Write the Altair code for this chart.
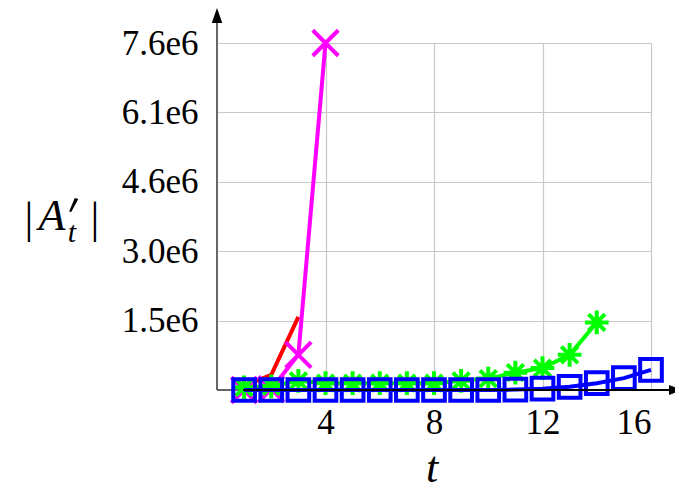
import altair as alt
import pandas as pd

# ---- data ----
t_red = [1, 2, 3]
v_red = [0.09e6, 0.33e6, 1.60e6]

t_mag = [1, 2, 3, 4]
v_mag = [0.0, 0.02e6, 0.77e6, 7.6e6]

t_green = list(range(1, 15))
v_green = [0.06e6, 0.08e6, 0.20e6, 0.15e6, 0.15e6, 0.15e6, 0.15e6, 0.15e6,
           0.20e6, 0.25e6, 0.38e6, 0.48e6, 0.77e6, 1.48e6]

t_blue = list(range(1, 17))
v_blue = [0.0, 0.0, 0.0, 0.0, 0.0, 0.0, 0.0, 0.0, 0.0, 0.0,
          0.01e6, 0.03e6, 0.07e6, 0.15e6, 0.26e6, 0.44e6]

x_ticks = [4, 8, 12, 16]
y_ticks = [1.52e6, 3.04e6, 4.56e6, 6.08e6, 7.6e6]
X_MAX = 16
Y_MAX = 7.6e6

W, H = 434, 347
FONT = "Liberation Serif"
TICK_FS = 35
TITLE_FS = 44
SW = 4

xs = alt.Scale(domain=[0, X_MAX], nice=False, zero=False)
ys = alt.Scale(domain=[0, Y_MAX], nice=False)

def df(t, v):
    return pd.DataFrame({"t": t, "v": v})

x_axis = alt.Axis(values=x_ticks, domain=False, ticks=False, grid=True,
                  gridColor="#c8c8c8", gridWidth=1.2, labelFont=FONT,
                  labelFontSize=TICK_FS, labelColor="black", labelPadding=15,
                  title=None)
y_axis = alt.Axis(values=y_ticks, domain=False, ticks=False, grid=True,
                  gridColor="#c8c8c8", gridWidth=1.2, labelFont=FONT,
                  labelFontSize=TICK_FS, labelColor="black", labelPadding=19,
                  labelExpr="format(datum.value/1e6, '.1f') + 'e6'",
                  title=None)

def series(t, v, color, shape=None, size=0):
    base = alt.Chart(df(t, v))
    enc = dict(x=alt.X("t:Q", scale=xs), y=alt.Y("v:Q", scale=ys))
    line = base.mark_line(color=color, strokeWidth=SW, clip=False).encode(**enc)
    if shape is None:
        return line
    pts = base.mark_point(shape=shape, size=size, color=color, filled=False,
                          strokeWidth=SW, opacity=1, clip=False).encode(**enc)
    return line + pts

ASTER = "M-1,0L1,0M0,-1L0,1M-0.7,-0.7L0.7,0.7M-0.7,0.7L0.7,-0.7"
CROSS = "M-1,-1L1,1M-1,1L1,-1"
PRIME = "M0.25,-1L0.75,-0.85L-0.25,1L-0.55,0.92Z"

grid_base = alt.Chart(df([0], [0])).mark_point(opacity=0).encode(
    x=alt.X("t:Q", scale=xs, axis=x_axis),
    y=alt.Y("v:Q", scale=ys, axis=y_axis),
)

one = pd.DataFrame({"a": [0]})
# axis lines with arrows (pixel positions relative to plot area)
y_line = alt.Chart(one).mark_rule(color="#666666", strokeWidth=2).encode(
    x=alt.value(0), y=alt.value(H), y2=alt.value(-20))
y_arrow = alt.Chart(one).mark_point(shape="M0,-1L0.7,1L-0.7,1Z", size=225,
                                     filled=True, color="black", opacity=1).encode(
    x=alt.value(0), y=alt.value(-27.5))
x_line_gray = alt.Chart(one).mark_rule(color="#666666", strokeWidth=2).encode(
    x=alt.value(0), x2=alt.value(27), y=alt.value(H))
x_line = alt.Chart(one).mark_rule(color="black", strokeWidth=2).encode(
    x=alt.value(26), x2=alt.value(455), y=alt.value(H))
x_arrow = alt.Chart(one).mark_point(shape="M1,0L-1,0.7L-1,-0.7Z", size=196,
                                     filled=True, color="black", opacity=1).encode(
    x=alt.value(459), y=alt.value(H))

# axis titles (relative to plot origin at page (217, 43))
def txt(s, x, y, size, style="normal", baseline="alphabetic", font=FONT):
    return alt.Chart(one).mark_text(text=s, font=font, fontSize=size,
                                    fontStyle=style, align="center",
                                    baseline=baseline, color="black").encode(
        x=alt.value(x), y=alt.value(y))

prime = alt.Chart(one).mark_point(shape=PRIME, size=200, filled=True,
                                  color="black", opacity=1, strokeWidth=0).encode(
    x=alt.value(73 - 217), y=alt.value(205 - 43))

titles = (
    txt("|", 29 - 217, 233 - 43, TITLE_FS)
    + txt("A", 52 - 217, 230 - 43, TITLE_FS, "italic")
    + prime
    + txt("t", 72 - 217, 242 - 43, 30, "italic")
    + txt("|", 95 - 217, 233 - 43, TITLE_FS)
    + txt("t", 432 - 217, 482 - 43, 44, "italic")
)

chart = alt.layer(
    grid_base,
    y_line, x_line_gray, y_arrow,
    series(t_red, v_red, "#ff0000"),
    series(t_mag, v_mag, "#ff00ff", CROSS, 650),
    series(t_green, v_green, "#00ff00", ASTER, 560),
    series(t_blue, v_blue, "#0000ff", "square", 470),
    x_line, x_arrow,
    titles,
).properties(
    width=W, height=H,
    autosize=alt.AutoSizeParams(type="none"),
    padding={"left": 209, "top": 35, "right": 24, "bottom": 103},
).configure_view(stroke=None)

chart.save("out.html", embed_options={"renderer": "svg", "actions": False})
